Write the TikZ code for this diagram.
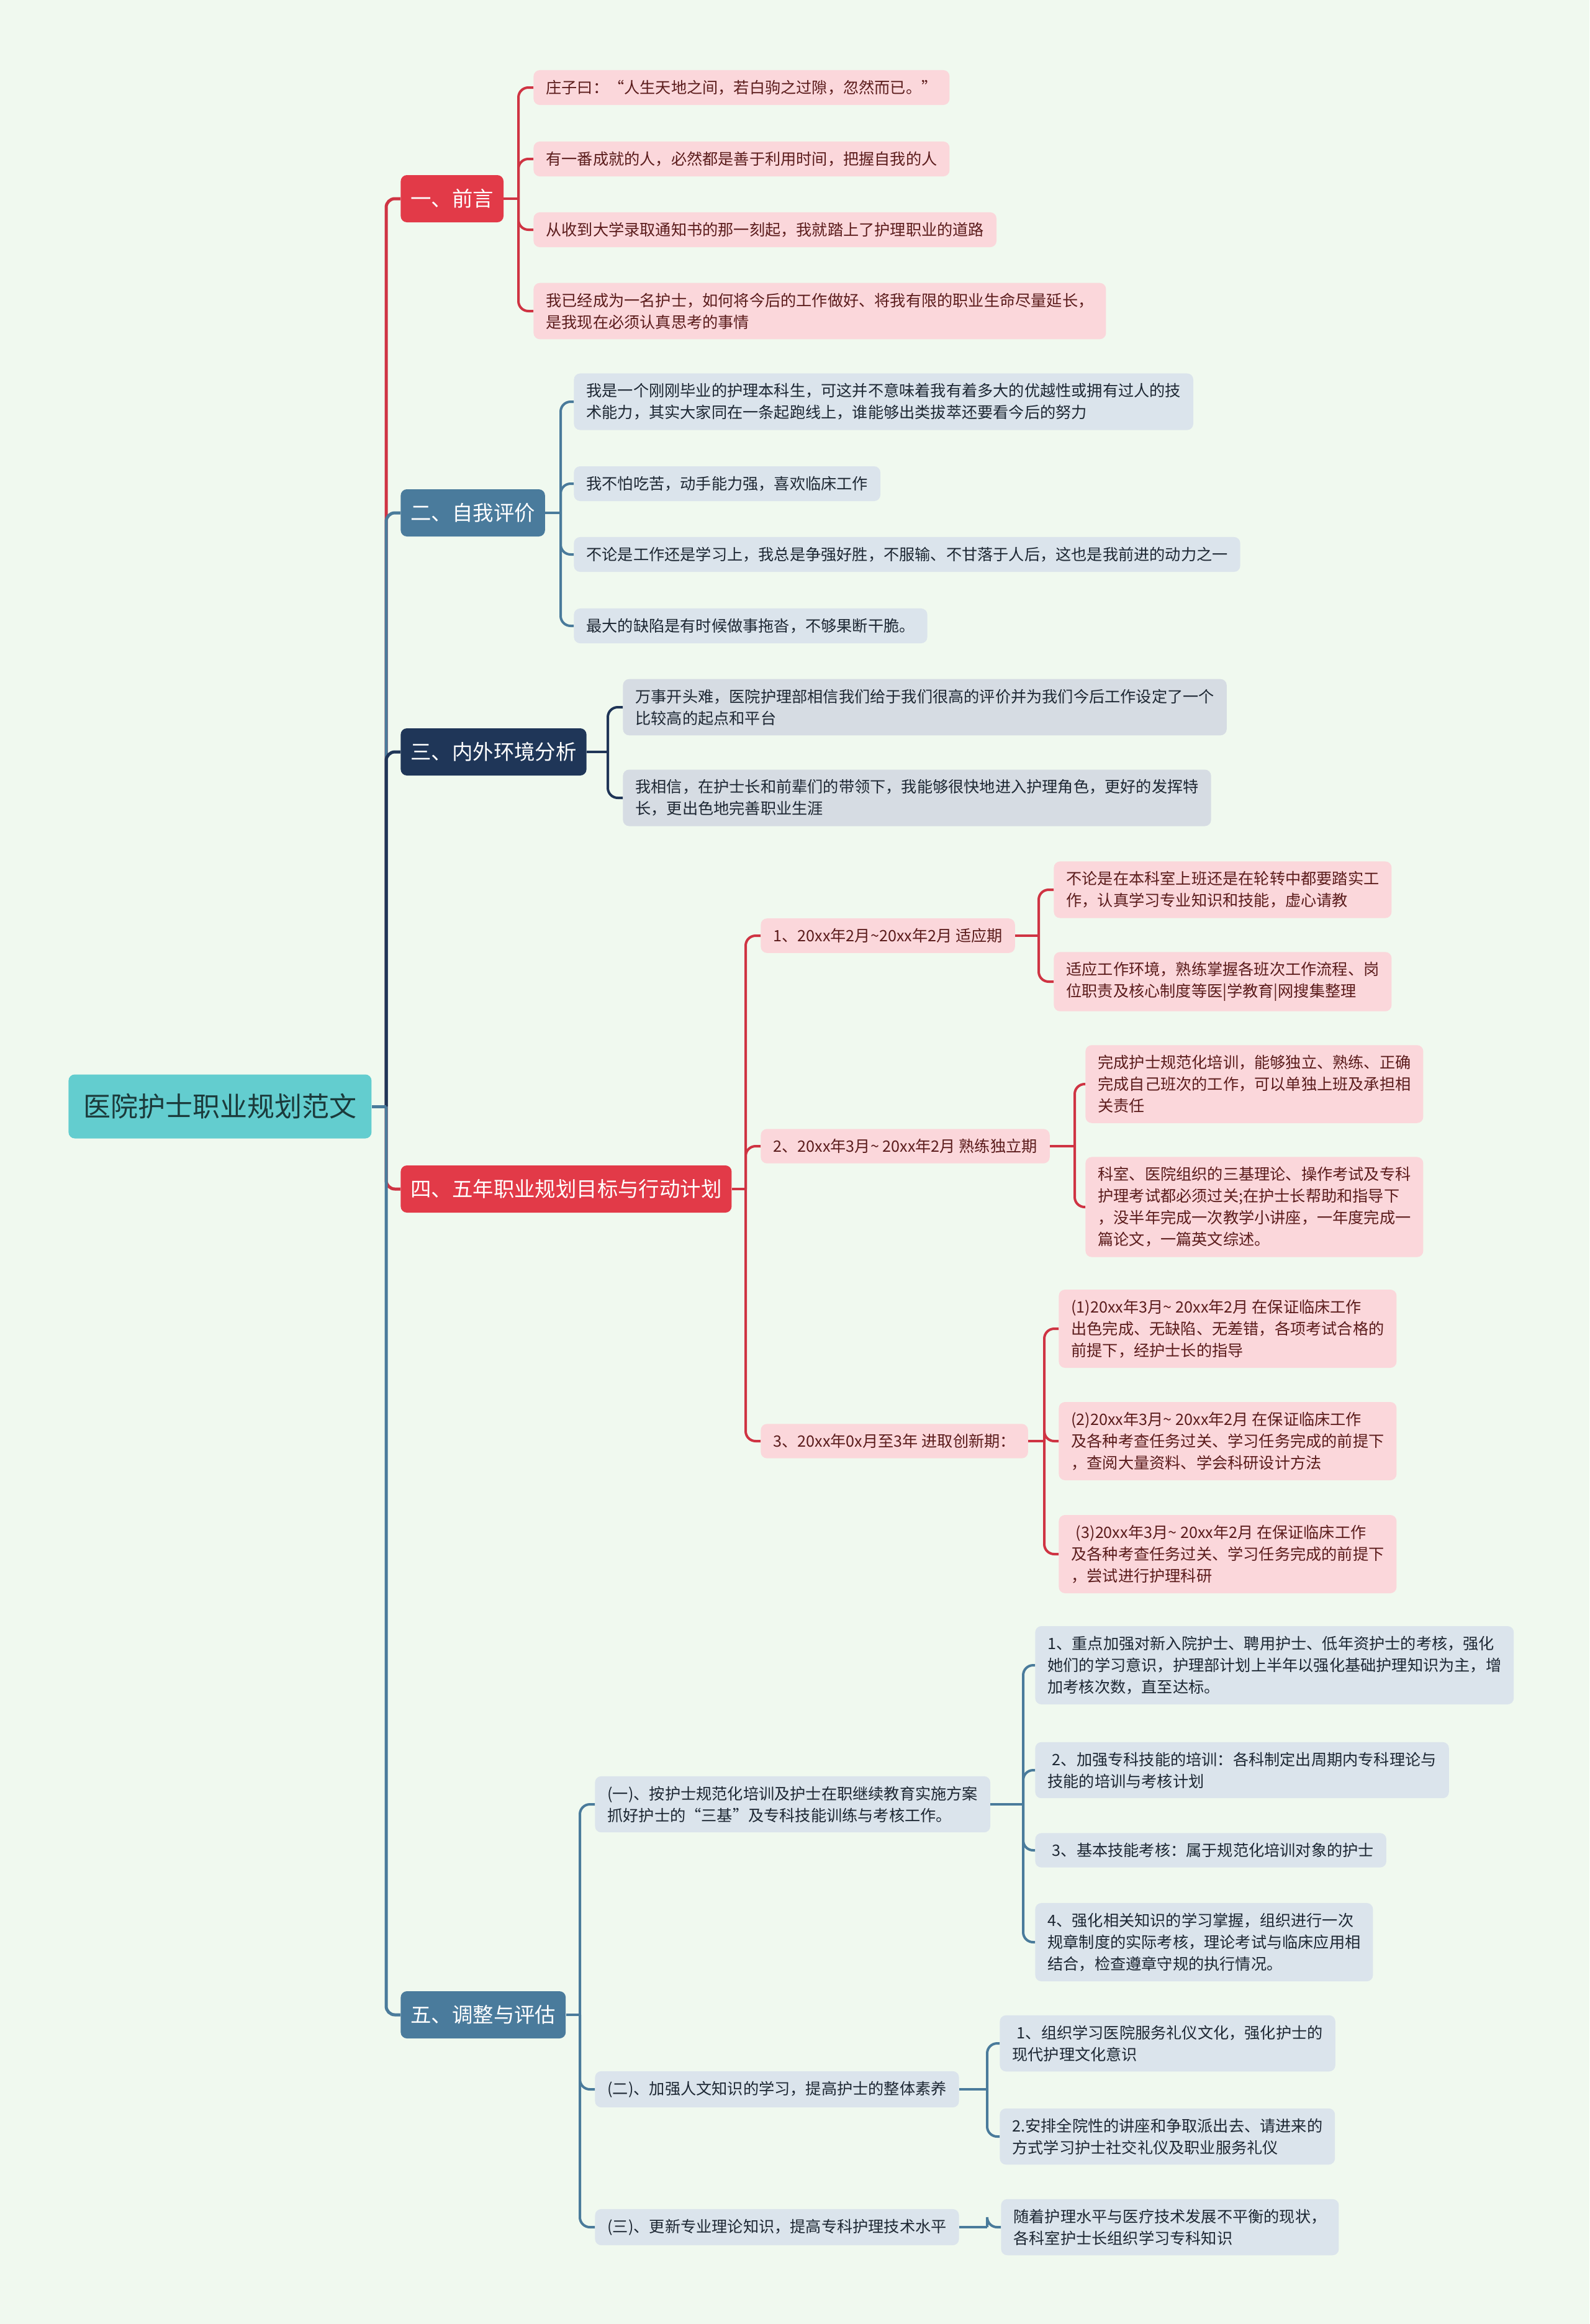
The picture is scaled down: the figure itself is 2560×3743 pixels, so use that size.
\documentclass[tikz,border=0pt]{standalone}
\usepackage{fontspec}
\setmainfont{Noto Sans CJK SC}
\usetikzlibrary{positioning}

\definecolor{bgcol}{HTML}{F0F9EF}
\definecolor{rootcol}{HTML}{63CDCF}
\definecolor{roottext}{HTML}{1B3A3B}
\definecolor{redcol}{HTML}{E23A48}
\definecolor{steelcol}{HTML}{4A7B9C}
\definecolor{navycol}{HTML}{1F3658}
\definecolor{redline}{HTML}{CF3443}
\definecolor{steelline}{HTML}{4A7B9B}
\definecolor{navyline}{HTML}{1F3557}
\definecolor{pinkfill}{HTML}{FBD7DB}
\definecolor{pinktext}{HTML}{5B1C1C}
\definecolor{bluefill}{HTML}{DBE4EC}
\definecolor{grayfill}{HTML}{D6DCE3}
\definecolor{bluetext}{HTML}{1D2733}

\tikzset{
  root/.style={fill=rootcol, text=roottext, rounded corners=5pt, anchor=west,
    font=\fontsize{22}{26}\selectfont, inner xsep=12pt, minimum height=51.5pt},
  topic/.style={text=white, rounded corners=5pt, anchor=west,
    font=\fontsize{16.7}{20}\selectfont, inner xsep=8pt, minimum height=38pt},
  leaf/.style={rounded corners=5pt, anchor=west, align=left,
    font=\fontsize{12.6}{17.5}\selectfont, inner xsep=10pt, inner ysep=8pt},
  pinkleaf/.style={leaf, fill=pinkfill, text=pinktext},
  blueleaf/.style={leaf, fill=bluefill, text=bluetext},
  grayleaf/.style={leaf, fill=grayfill, text=bluetext},
  mainlink/.style={line width=2.5pt, rounded corners=7pt},
  link/.style={line width=2pt, rounded corners=8pt},
}

\begin{document}
\begin{tikzpicture}[x=0.5pt, y=-0.5pt]
  \fill[bgcol] (0,0) rectangle (2560,3743);
  \useasboundingbox (0,0) rectangle (2560,3743);

  % 中心主题
  \node[root] (root) at (110,1782) {医院护士职业规划范文};
  \coordinate (j0) at (622,1782);

  % 一级主题
  \node[topic, fill=redcol] (t1) at (645,320) {一、前言};
  \node[topic, fill=steelcol] (t2) at (645,826) {二、自我评价};
  \node[topic, fill=navycol] (t3) at (645,1211) {三、内外环境分析};
  \node[topic, fill=redcol] (t4) at (645,1915) {四、五年职业规划目标与行动计划};
  \node[topic, fill=steelcol] (t5) at (645,3245) {五、调整与评估};

  % 一、前言
  \coordinate (j1) at (835,320);
  \node[pinkleaf] (t1a) at (859,141) {庄子曰：“人生天地之间，若白驹之过隙，忽然而已。”};
  \node[pinkleaf] (t1b) at (859,256) {有一番成就的人，必然都是善于利用时间，把握自我的人};
  \node[pinkleaf] (t1c) at (859,370) {从收到大学录取通知书的那一刻起，我就踏上了护理职业的道路};
  \node[pinkleaf] (t1d) at (859,501) {我已经成为一名护士，如何将今后的工作做好、将我有限的职业生命尽量延长，\\是我现在必须认真思考的事情};

  % 二、自我评价
  \coordinate (j2) at (903,826);
  \node[blueleaf] (t2a) at (924,647) {我是一个刚刚毕业的护理本科生，可这并不意味着我有着多大的优越性或拥有过人的技\\术能力，其实大家同在一条起跑线上，谁能够出类拔萃还要看今后的努力};
  \node[blueleaf] (t2b) at (924,779) {我不怕吃苦，动手能力强，喜欢临床工作};
  \node[blueleaf] (t2c) at (924,893) {不论是工作还是学习上，我总是争强好胜，不服输、不甘落于人后，这也是我前进的动力之一};
  \node[blueleaf] (t2d) at (924,1008) {最大的缺陷是有时候做事拖沓，不够果断干脆。};

  % 三、内外环境分析
  \coordinate (j3) at (979,1211);
  \node[grayleaf] (t3a) at (1003,1139) {万事开头难，医院护理部相信我们给于我们很高的评价并为我们今后工作设定了一个\\比较高的起点和平台};
  \node[grayleaf] (t3b) at (1003,1285) {我相信，在护士长和前辈们的带领下，我能够很快地进入护理角色，更好的发挥特\\长，更出色地完善职业生涯};

  % 四、五年职业规划目标与行动计划
  \coordinate (j4) at (1201,1915);
  \node[pinkleaf] (t4a) at (1225,1507) {1、20xx年2月\textasciitilde 20xx年2月 适应期};
  \node[pinkleaf] (t4b) at (1225,1846) {2、20xx年3月\textasciitilde{} 20xx年2月 熟练独立期};
  \node[pinkleaf] (t4c) at (1225,2321) {3、20xx年0x月至3年 进取创新期：};

  \coordinate (j4a) at (1673,1507);
  \node[pinkleaf] (t4a1) at (1697,1433) {不论是在本科室上班还是在轮转中都要踏实工\\作，认真学习专业知识和技能，虚心请教};
  \node[pinkleaf] (t4a2) at (1697,1581) {适应工作环境，熟练掌握各班次工作流程、岗\\位职责及核心制度等医|学教育|网搜集整理};

  \coordinate (j4b) at (1731,1846);
  \node[pinkleaf] (t4b1) at (1748,1746) {完成护士规范化培训，能够独立、熟练、正确\\完成自己班次的工作，可以单独上班及承担相\\关责任};
  \node[pinkleaf] (t4b2) at (1748,1944) {科室、医院组织的三基理论、操作考试及专科\\护理考试都必须过关;在护士长帮助和指导下\\，没半年完成一次教学小讲座，一年度完成一\\篇论文，一篇英文综述。};

  \coordinate (j4c) at (1682,2321);
  \node[pinkleaf] (t4c1) at (1705,2140) {(1)20xx年3月\textasciitilde{} 20xx年2月 在保证临床工作\\出色完成、无缺陷、无差错，各项考试合格的\\前提下，经护士长的指导};
  \node[pinkleaf] (t4c2) at (1705,2321) {(2)20xx年3月\textasciitilde{} 20xx年2月 在保证临床工作\\及各种考查任务过关、学习任务完成的前提下\\，查阅大量资料、学会科研设计方法};
  \node[pinkleaf] (t4c3) at (1705,2503) {\hspace{0.3em}(3)20xx年3月\textasciitilde{} 20xx年2月 在保证临床工作\\及各种考查任务过关、学习任务完成的前提下\\，尝试进行护理科研};

  % 五、调整与评估
  \coordinate (j5) at (934,3245);
  \node[blueleaf] (t5a) at (958,2906) {(一)、按护士规范化培训及护士在职继续教育实施方案\\抓好护士的“三基”及专科技能训练与考核工作。};
  \node[blueleaf] (t5b) at (958,3365) {(二)、加强人文知识的学习，提高护士的整体素养};
  \node[blueleaf] (t5c) at (958,3587) {(三)、更新专业理论知识，提高专科护理技术水平};

  \coordinate (j5a) at (1648,2906);
  \node[blueleaf] (t5a1) at (1667,2682) {1、重点加强对新入院护士、聘用护士、低年资护士的考核，强化\\她们的学习意识，护理部计划上半年以强化基础护理知识为主，增\\加考核次数，直至达标。};
  \node[blueleaf] (t5a2) at (1667,2851) {\hspace{0.3em}2、加强专科技能的培训：各科制定出周期内专科理论与\\技能的培训与考核计划};
  \node[blueleaf] (t5a3) at (1667,2980) {\hspace{0.3em}3、基本技能考核：属于规范化培训对象的护士};
  \node[blueleaf] (t5a4) at (1667,3128) {4、强化相关知识的学习掌握，组织进行一次\\规章制度的实际考核，理论考试与临床应用相\\结合，检查遵章守规的执行情况。};

  \coordinate (j5b) at (1590,3365);
  \node[blueleaf] (t5b1) at (1610,3291) {\hspace{0.3em}1、组织学习医院服务礼仪文化，强化护士的\\现代护理文化意识};
  \node[blueleaf] (t5b2) at (1610,3441) {2.安排全院性的讲座和争取派出去、请进来的\\方式学习护士社交礼仪及职业服务礼仪};

  \coordinate (j5c) at (1590,3587);
  \node[blueleaf] (t5c1) at (1612,3587) {随着护理水平与医疗技术发展不平衡的现状，\\各科室护士长组织学习专科知识};

  % 中心到一级主题的连线
  \draw[mainlink, redline] (j0) |- (t1.west);
  \draw[mainlink, steelline] (j0) |- (t2.west);
  \draw[mainlink, navyline] (j0) |- (t3.west);
  \draw[mainlink, redline] (j0) |- (t4.west);
  \draw[mainlink, steelline] (j0) |- (t5.west);
  \draw[mainlink, steelline] (root.east) -- (j0);

  % 分支连线
  \foreach \c in {t1a,t1b,t1c,t1d}
    \draw[link, redline] (j1) |- (\c.west);
  \draw[link, redline] (t1.east) -- (j1);

  \foreach \c in {t2a,t2b,t2c,t2d}
    \draw[link, steelline] (j2) |- (\c.west);
  \draw[link, steelline] (t2.east) -- (j2);

  \foreach \c in {t3a,t3b}
    \draw[link, navyline] (j3) |- (\c.west);
  \draw[link, navyline] (t3.east) -- (j3);

  \foreach \c in {t4a,t4b,t4c}
    \draw[link, redline] (j4) |- (\c.west);
  \draw[link, redline] (t4.east) -- (j4);
  \foreach \p/\c in {4a/t4a1,4a/t4a2,4b/t4b1,4b/t4b2,4c/t4c1,4c/t4c2,4c/t4c3}
    \draw[link, redline] (j\p) |- (\c.west);
  \foreach \p in {4a,4b,4c}
    \draw[link, redline] (t\p.east) -- (j\p);

  \foreach \c in {t5a,t5b,t5c}
    \draw[link, steelline] (j5) |- (\c.west);
  \draw[link, steelline] (t5.east) -- (j5);
  \foreach \p/\c in {5a/t5a1,5a/t5a2,5a/t5a3,5a/t5a4,5b/t5b1,5b/t5b2,5c/t5c1}
    \draw[link, steelline] (j\p) |- (\c.west);
  \foreach \p in {5a,5b,5c}
    \draw[link, steelline] (t\p.east) -- (j\p);
\end{tikzpicture}
\end{document}
